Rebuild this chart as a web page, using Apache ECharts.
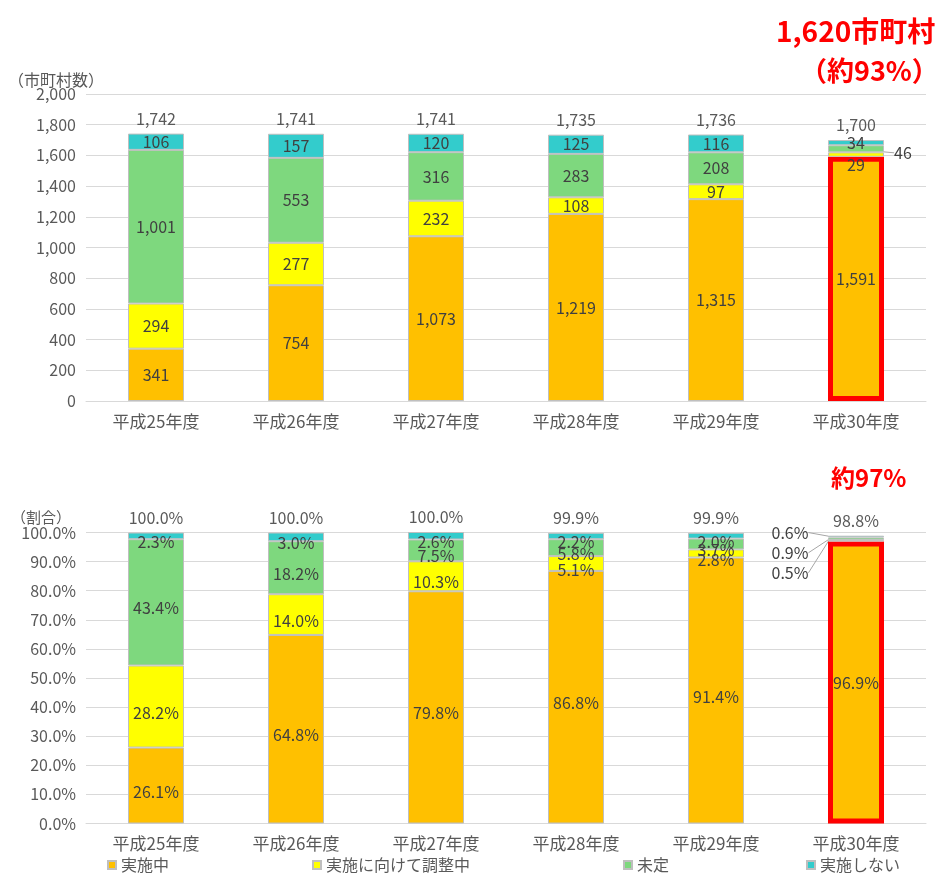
<!DOCTYPE html>
<html>
<head>
<meta charset="utf-8">
<script src="https://cdn.jsdelivr.net/npm/echarts@6/dist/echarts.min.js"></script>
<style>
    html, body { margin: 0; padding: 0; background: #ffffff; }
    #main { width: 944px; height: 873px; }
</style>
</head>
<body>
<div id="main"></div>
<script>
    // 年度
    const years = ['平成25年度', '平成26年度', '平成27年度', '平成28年度', '平成29年度', '平成30年度']
    // 市町村数
    const cntDoing = [341, 754, 1073, 1219, 1315, 1591]
    const cntAdjust = [294, 277, 232, 108, 97, 29]
    const cntUndecided = [1001, 553, 316, 283, 208, 46]
    const cntNot = [106, 157, 120, 125, 116, 34]
    const cntTotal = [1742, 1741, 1741, 1735, 1736, 1700]
    // 割合（%）
    const pctDoing = [26.1, 64.8, 79.8, 86.8, 91.4, 96.9]
    const pctAdjust = [28.2, 14.0, 10.3, 5.1, 2.8, 0.5]
    const pctUndecided = [43.4, 18.2, 7.5, 5.8, 3.7, 0.9]
    const pctNot = [2.3, 3.0, 2.6, 2.2, 2.0, 0.6]
    const pctTotal = [100.0, 100.0, 100.0, 99.9, 99.9, 98.8]
    const legendNames = ['実施中', '実施に向けて調整中', '未定', '実施しない']

    const colors = ['#FFC000', '#FFFF00', '#7ED87E', '#33CCCC']
    const txt = '#404040'
    const axisTxt = '#595959'

    const fmtCnt = v => v.toLocaleString('en-US')
    const fmtPct = v => v.toFixed(1) + '%'

    function barSeries(name, idx, data, axis, fmt, layout) {
        return {
            name: name,
            type: 'bar',
            stack: 'a' + axis,
            xAxisIndex: axis,
            yAxisIndex: axis,
            barWidth: 56,
            data: data.map((v, i) => {
                // 平成30年度の実施中は赤枠
                if (idx === 0 && i === 5) {
                    return {value: v, itemStyle: {borderColor: '#FF0000', borderWidth: 5}}
                }
                return v
            }),
            itemStyle: {color: colors[idx], borderColor: '#BFBFBF', borderWidth: 1},
            label: {
                show: true,
                position: 'inside',
                color: txt,
                fontSize: 16,
                formatter: p => fmt(p.value)
            },
            labelLine: {show: true, lineStyle: {color: '#A6A6A6', width: 1}},
            labelLayout: layout || null
        }
    }

    function totalSeries(axis, totals, fmt) {
        return {
            name: '合計',
            type: 'bar',
            stack: 'a' + axis,
            xAxisIndex: axis,
            yAxisIndex: axis,
            barWidth: 56,
            silent: true,
            clip: false,
            data: totals.map(() => 0),
            itemStyle: {color: 'rgba(0,0,0,0)', borderWidth: 0},
            label: {
                show: true,
                position: 'top',
                distance: 7,
                color: axisTxt,
                fontSize: 16,
                formatter: p => fmt(totals[p.dataIndex])
            }
        }
    }

    // 平成30年度の小さいラベルをずらす（下のグラフは全体に少し下げる）
    const moveLast = (dx, dy, base) => p => (p.dataIndex === 5 ? {dx: dx, dy: dy} : {dy: base || 0})

    const redText = size => ({color: '#FF0000', fontSize: size, fontWeight: 'bold'})
    const chart = echarts.init(document.getElementById('main'))
    chart.setOption({
        animation: false,
        textStyle: {fontFamily: 'Noto Sans CJK JP'},
        title: [
            {text: '1,620市町村', left: 771, top: 12, textStyle: redText(28)},
            {text: '（約93%）', left: 795, top: 52, textStyle: redText(27)},
            {text: '約97%', left: 826, top: 461, textStyle: redText(24)},
            {text: '（市町村数）', left: 3, top: 67, textStyle: {color: axisTxt, fontSize: 16, fontWeight: 'normal'}},
            {text: '（割合）', left: 6, top: 505, textStyle: {color: axisTxt, fontSize: 15, fontWeight: 'normal'}}
        ],
        legend: legendNames.map((n, i) => ({
            data: [n],
            left: [102, 307, 618, 801][i],
            top: 852,
            icon: 'rect',
            itemWidth: 8,
            itemHeight: 8,
            itemGap: 0,
            textStyle: {color: axisTxt, fontSize: 16}
        })),
        grid: [
            {left: 86, right: 18, top: 94, height: 307},
            {left: 86, right: 18, top: 532.5, height: 291}
        ],
        xAxis: [0, 1].map(i => ({
            type: 'category',
            gridIndex: i,
            data: years,
            axisTick: {show: false},
            axisLine: {lineStyle: {color: '#D9D9D9'}},
            axisLabel: {color: axisTxt, fontSize: 17, margin: 12}
        })),
        yAxis: [
            {
                type: 'value', gridIndex: 0, min: 0, max: 2000, interval: 200,
                axisLabel: {color: axisTxt, fontSize: 16, margin: 10, formatter: fmtCnt},
                splitLine: {lineStyle: {color: '#D9D9D9'}}
            },
            {
                type: 'value', gridIndex: 1, min: 0, max: 100, interval: 10,
                axisLabel: {color: axisTxt, fontSize: 16, margin: 10, formatter: fmtPct},
                splitLine: {lineStyle: {color: '#D9D9D9'}}
            }
        ],
        series: [
            barSeries(legendNames[0], 0, cntDoing, 0, fmtCnt),
            barSeries(legendNames[1], 1, cntAdjust, 0, fmtCnt, moveLast(0, 10)),
            barSeries(legendNames[2], 2, cntUndecided, 0, fmtCnt, moveLast(47, 4)),
            barSeries(legendNames[3], 3, cntNot, 0, fmtCnt),
            totalSeries(0, cntTotal, fmtCnt),
            barSeries(legendNames[0], 0, pctDoing, 1, fmtPct, moveLast(0, 0, 6)),
            barSeries(legendNames[1], 1, pctAdjust, 1, fmtPct, moveLast(-66, 32, 6)),
            barSeries(legendNames[2], 2, pctUndecided, 1, fmtPct, moveLast(-66, 14, 6)),
            barSeries(legendNames[3], 3, pctNot, 1, fmtPct, moveLast(-66, -4, 6)),
            totalSeries(1, pctTotal, fmtPct)
        ]
    })
</script>
</body>
</html>
